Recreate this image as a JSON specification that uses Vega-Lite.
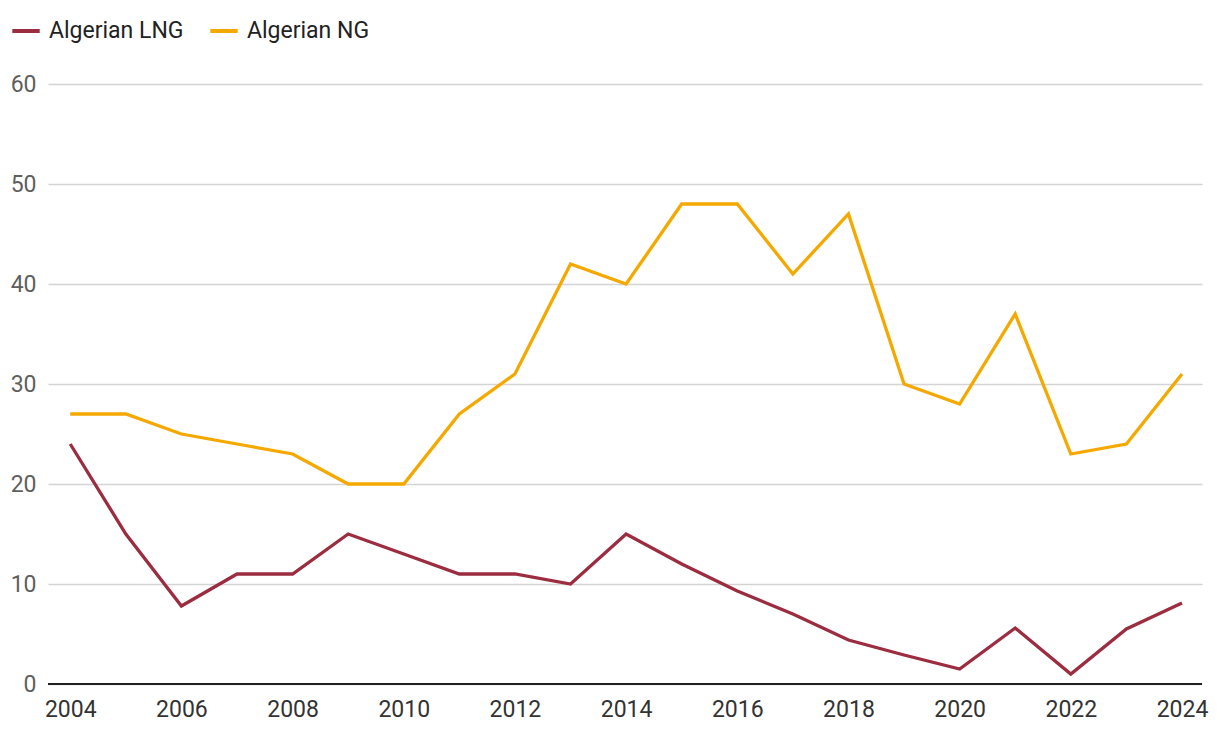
{
  "$schema": "https://vega.github.io/schema/vega-lite/v6.json",
  "width": 1154,
  "height": 600,
  "autosize": {"type": "none"},
  "padding": {"left": 48, "top": 84, "right": 18, "bottom": 50},
  "background": "white",
  "config": {
    "font": "Roboto",
    "view": {"stroke": null}
  },
  "data": {
    "values": [
      {"year": 2004, "series": "Algerian LNG", "value": 24},
      {"year": 2005, "series": "Algerian LNG", "value": 15},
      {"year": 2006, "series": "Algerian LNG", "value": 7.8},
      {"year": 2007, "series": "Algerian LNG", "value": 11},
      {"year": 2008, "series": "Algerian LNG", "value": 11},
      {"year": 2009, "series": "Algerian LNG", "value": 15},
      {"year": 2010, "series": "Algerian LNG", "value": 13},
      {"year": 2011, "series": "Algerian LNG", "value": 11},
      {"year": 2012, "series": "Algerian LNG", "value": 11},
      {"year": 2013, "series": "Algerian LNG", "value": 10},
      {"year": 2014, "series": "Algerian LNG", "value": 15},
      {"year": 2015, "series": "Algerian LNG", "value": 12},
      {"year": 2016, "series": "Algerian LNG", "value": 9.3},
      {"year": 2017, "series": "Algerian LNG", "value": 7},
      {"year": 2018, "series": "Algerian LNG", "value": 4.4},
      {"year": 2019, "series": "Algerian LNG", "value": 2.9},
      {"year": 2020, "series": "Algerian LNG", "value": 1.5},
      {"year": 2021, "series": "Algerian LNG", "value": 5.6},
      {"year": 2022, "series": "Algerian LNG", "value": 1},
      {"year": 2023, "series": "Algerian LNG", "value": 5.5},
      {"year": 2024, "series": "Algerian LNG", "value": 8.1},
      {"year": 2004, "series": "Algerian NG", "value": 27},
      {"year": 2005, "series": "Algerian NG", "value": 27},
      {"year": 2006, "series": "Algerian NG", "value": 25},
      {"year": 2007, "series": "Algerian NG", "value": 24},
      {"year": 2008, "series": "Algerian NG", "value": 23},
      {"year": 2009, "series": "Algerian NG", "value": 20},
      {"year": 2010, "series": "Algerian NG", "value": 20},
      {"year": 2011, "series": "Algerian NG", "value": 27},
      {"year": 2012, "series": "Algerian NG", "value": 31},
      {"year": 2013, "series": "Algerian NG", "value": 42},
      {"year": 2014, "series": "Algerian NG", "value": 40},
      {"year": 2015, "series": "Algerian NG", "value": 48},
      {"year": 2016, "series": "Algerian NG", "value": 48},
      {"year": 2017, "series": "Algerian NG", "value": 41},
      {"year": 2018, "series": "Algerian NG", "value": 47},
      {"year": 2019, "series": "Algerian NG", "value": 30},
      {"year": 2020, "series": "Algerian NG", "value": 28},
      {"year": 2021, "series": "Algerian NG", "value": 37},
      {"year": 2022, "series": "Algerian NG", "value": 23},
      {"year": 2023, "series": "Algerian NG", "value": 24},
      {"year": 2024, "series": "Algerian NG", "value": 31}
    ]
  },
  "layer": [
    {
      "mark": {"type": "rule", "color": "#222222", "strokeWidth": 2},
      "encoding": {"y": {"datum": 0, "type": "quantitative"}}
    },
    {
      "mark": {"type": "line", "strokeWidth": 3.3, "strokeJoin": "miter"},
      "encoding": {
        "x": {
          "field": "year",
          "type": "quantitative",
          "scale": {"domain": [2003.6, 2024.36], "nice": false, "zero": false},
          "axis": {
            "title": null,
            "values": [2004, 2006, 2008, 2010, 2012, 2014, 2016, 2018, 2020, 2022, 2024],
            "format": "d",
            "grid": false,
            "domain": false,
            "ticks": false,
            "labelFontSize": 23,
            "labelColor": "#333333",
            "labelPadding": 14,
            "labelFlush": false
          }
        },
        "y": {
          "field": "value",
          "type": "quantitative",
          "scale": {"domain": [0, 60], "nice": false},
          "axis": {
            "title": null,
            "values": [0, 10, 20, 30, 40, 50, 60],
            "grid": true,
            "gridColor": "#d4d4d4",
            "gridWidth": 1.3,
            "domain": false,
            "ticks": false,
            "labelFontSize": 23,
            "labelColor": "#5f5f5f",
            "labelPadding": 12
          }
        },
        "color": {
          "field": "series",
          "type": "nominal",
          "scale": {"domain": ["Algerian LNG", "Algerian NG"], "range": ["#9c2c3f", "#f5a800"]},
          "legend": {
            "title": null,
            "orient": "none",
            "direction": "horizontal",
            "legendX": -38,
            "legendY": -69,
            "symbolType": "stroke",
            "symbolStrokeWidth": 4,
            "symbolSize": 750,
            "labelFontSize": 23,
            "labelColor": "#222222",
            "columnPadding": 18,
            "labelOffset": 7
          }
        }
      }
    }
  ]
}
